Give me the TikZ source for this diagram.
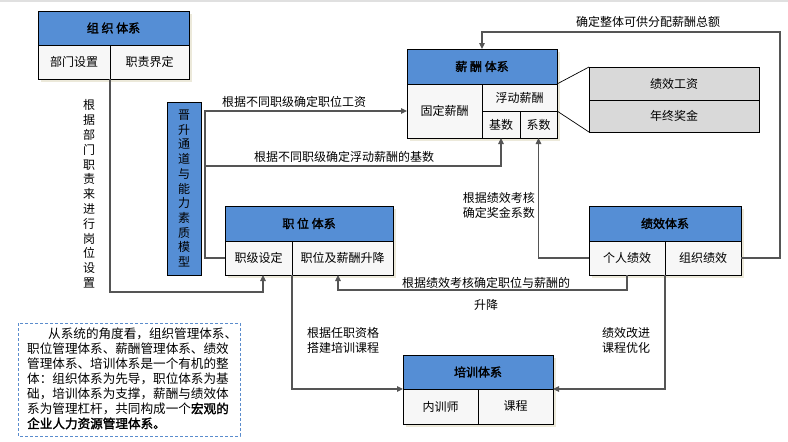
\documentclass[tikz,border=0pt]{standalone}
\usepackage{fontspec}
\setmainfont{Noto Sans CJK SC}[AutoFakeBold=2]
\usetikzlibrary{arrows.meta}
\definecolor{hdr}{RGB}{85,142,213}
\definecolor{cellbg}{RGB}{247,247,247}
\definecolor{graybg}{RGB}{217,217,217}
\definecolor{shad}{RGB}{236,233,218}
\definecolor{lnc}{RGB}{85,85,85}
\definecolor{dashc}{RGB}{90,140,205}
\newcommand\mycell[7]{%
  \node[#6, minimum width={(#4-#2)*1pt}, minimum height={(#5-#3)*1pt}] (#1) at ({(#2+#4)/2},{(#3+#5)/2}) {#7};}
\newcommand\myshadow[4]{\fill[shad] (#1+2.5,#2+2.5) rectangle (#3+2.5,#4+2.5);}
\tikzset{
  base/.style={draw=black, line width=0.8pt, inner sep=0pt, outer sep=0pt},
  hd/.style={base, fill=hdr, font=\bfseries\fontsize{12}{14}\selectfont},
  bd/.style={base, fill=cellbg, font=\fontsize{12}{14}\selectfont},
  gb/.style={base, fill=graybg, font=\fontsize{12}{14}\selectfont},
  conn/.style={draw=lnc, line width=1.2pt},
  arr/.style={conn, -{Triangle[length=6pt,width=5.5pt]}},
  lbl/.style={inner sep=0pt, font=\fontsize{12}{15}\selectfont},
}
\begin{document}
\begin{tikzpicture}[x=1pt,y=-1pt]
\useasboundingbox (0,0) rectangle (788,442);
\fill[white] (0,0) rectangle (788,442);
\fill[black!12] (0,0) rectangle (788,2);
% shadows
\myshadow{38}{11}{189}{79}
\myshadow{407}{49}{557}{138}
\myshadow{225}{206}{393}{275}
\myshadow{589}{206}{741}{275}
\myshadow{403}{355}{553}{424}
% organisation
\mycell{zzH}{38}{11}{189}{45}{hd}{组 织 体系}
\mycell{zzA}{38}{45}{110}{79}{bd}{部门设置}
\mycell{zzB}{110}{45}{189}{79}{bd}{职责界定}
% pay
\mycell{xcH}{407}{49}{557}{84}{hd}{薪 酬 体系}
\mycell{xcA}{407}{84}{482}{138}{bd}{固定薪酬}
\mycell{xcB}{482}{84}{557}{111}{bd}{浮动薪酬}
\mycell{xcC}{482}{111}{520}{138}{bd}{基数}
\mycell{xcD}{520}{111}{557}{138}{bd}{系数}
% gray box
\mycell{gA}{589}{67}{759}{100}{gb}{绩效工资}
\mycell{gB}{589}{100}{759}{132}{gb}{年终奖金}
\draw[black, line width=0.7pt] (xcB.north east) -- (gA.north west);
\draw[black, line width=0.7pt] (xcD.north east) -- (gB.south west);
% position
\mycell{zwH}{225}{206}{393}{241}{hd}{职 位 体系}
\mycell{zwA}{225}{241}{292}{275}{bd}{职级设定}
\mycell{zwB}{292}{241}{393}{275}{bd}{职位及薪酬升降}
% performance
\mycell{jxH}{589}{206}{741}{241}{hd}{绩效体系}
\mycell{jxA}{589}{241}{665}{275}{bd}{个人绩效}
\mycell{jxB}{665}{241}{741}{275}{bd}{组织绩效}
% training
\mycell{pxH}{403}{355}{553}{389}{hd}{培训体系}
\mycell{pxA}{403}{389}{478}{424}{bd}{内训师}
\mycell{pxB}{478}{389}{553}{424}{bd}{课程}
% promotion channel
\mycell{js}{167}{102}{201}{275}{base, fill=hdr, align=center, font=\fontsize{12}{14.7}\selectfont}{晋\\升\\通\\道\\与\\能\\力\\素\\质\\模\\型}
% connectors
\draw[arr] (zzA.south east) -- ++(0,213) -| ([xshift=4.5pt]zwA.south);
\draw[arr] (zwA.west) -- ++(-20,0) |- (xcA.west);
\coordinate (b1) at (205,166);
\draw[arr] (b1) -| (xcC.south);
\coordinate (tr) at (780,32);
\draw[arr] (jxB.east) -| (tr) -| (xcH.north);
\draw[arr] (jxA.west) -| (xcD.south);
\draw[arr] (jxA.south) -- ++(0,15) -| ([xshift=-4.5pt]zwB.south);
\draw[arr] (jxA.south east) |- (pxH.south east);
\draw[arr] (zwA.south east) |- (pxH.south west);
% labels
\node[lbl] (l1) at (648,22) {确定整体可供分配薪酬总额};
\node[lbl] (l2) at (294,102) {根据不同职级确定职位工资};
\node[lbl] (l3) at (344,157) {根据不同职级确定浮动薪酬的基数};
\node[lbl, align=right, anchor=east] (l4) at (535,205.5) {根据绩效考核\\确定奖金系数};
\node[lbl] (l5) at (486,283) {根据绩效考核确定职位与薪酬的};
\node[lbl] (l6) at (486,305) {升降};
\node[lbl, align=left, anchor=west] (l7) at (307,340) {根据任职资格\\搭建培训课程};
\node[lbl, align=left, anchor=west] (l8) at (602,340) {绩效改进\\课程优化};
\node[lbl, align=center, font=\fontsize{12}{14.8}\selectfont] (l9) at (89,194) {根\\据\\部\\门\\职\\责\\来\\进\\行\\岗\\位\\设\\置};
% dashed summary box
\draw[dashc, line width=0.8pt, dash pattern=on 3pt off 2pt] (18,323) rectangle (240,436);
\node[inner sep=0pt, anchor=north west, align=left, font=\fontsize{12.6}{14.9}\selectfont] (txt) at (27,328) {\hspace*{21pt}从系统的角度看，组织管理体系、\\职位管理体系、薪酬管理体系、绩效\\管理体系、培训体系是一个有机的整\\体：组织体系为先导，职位体系为基\\础，培训体系为支撑，薪酬与绩效体\\系为管理杠杆，共同构成一个\textbf{宏观的}\\\textbf{企业人力资源管理体系。}};
\end{tikzpicture}
\end{document}
